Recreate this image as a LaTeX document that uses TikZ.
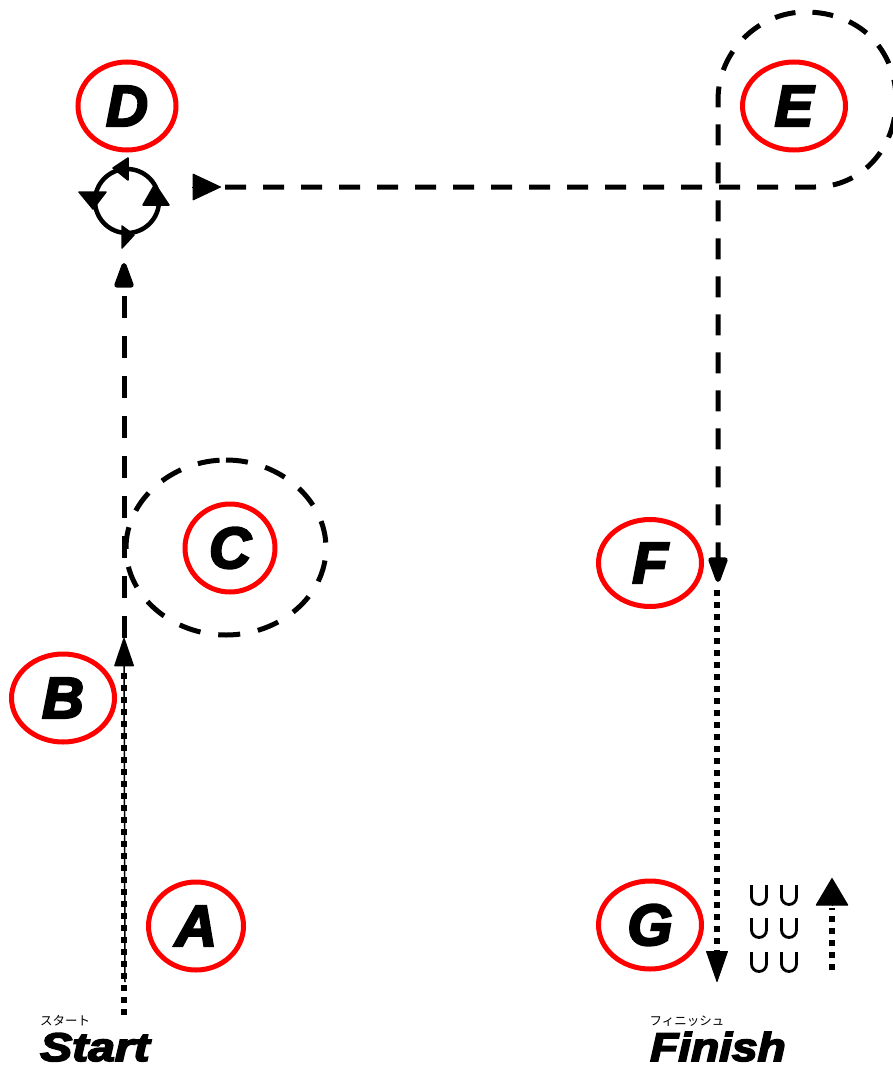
\documentclass[tikz,border=0pt]{standalone}
\usepackage{fontspec}
\setmainfont{Liberation Sans}[BoldItalicFeatures={FakeBold=4}]
\newfontfamily\kanafont{Noto Sans CJK JP}
\usetikzlibrary{arrows.meta,shapes.geometric}
\tikzset{
  spot/.style={draw=red,line width=5pt,ellipse,inner sep=0pt,font=\fontsize{58}{58}\selectfont\bfseries\itshape},
  dashroute/.style={line width=5pt,dash pattern=on 22pt off 18pt},
  dotroute/.style={line width=6pt,dash pattern=on 6pt off 6pt},
  thinroute/.style={line width=1.5pt},
  headup/.style={-{Triangle[length=30pt,width=20pt,round]}},
  ringhead/.style={fill=black,draw=black,line width=1.5pt,line join=round},
  title/.style={font=\fontsize{40}{40}\selectfont\bfseries\itshape,inner sep=0pt},
  kana/.style={font=\kanafont\fontsize{12.5}{13}\selectfont,inner sep=0pt}
}
\begin{document}
\begin{tikzpicture}[x=1pt,y=-1pt]
\useasboundingbox (0,0) rectangle (892,1070);

\node[spot,minimum width=95pt,minimum height=88pt] (a) at (196,926) {A};
\node[spot,minimum width=103pt,minimum height=88pt] (b) at (63,698) {B};
\node[spot,minimum width=90pt,minimum height=88pt] (c) at (230,548) {C};
\node[spot,minimum width=98pt,minimum height=88pt] (d) at (127,106) {D};
\node[spot,minimum width=103pt,minimum height=88pt] (e) at (794,106) {E};
\node[spot,minimum width=103pt,minimum height=87pt] (f) at (650,563) {F};
\node[spot,minimum width=103pt,minimum height=88pt] (g) at (650,925) {G};

\node[title,anchor=base west] (start) at (40,1061) {\scalebox{1.2}[1]{Start}};
\node[title,anchor=base west] (finish) at (650,1061) {\scalebox{1.15}[1]{Finish}};
\node[kana] (startkana) at (65,1021) {スタート};
\node[kana] (finishkana) at (687,1021) {フィニッシュ};

\coordinate (s0) at (123.5,1015);
\coordinate (s1) at (124,638);
\coordinate (s2) at (124,263);
\coordinate (r0) at (192,187);
\coordinate (r1) at (221,187);
\coordinate (r2) at (225,187);
\coordinate (t0) at (718,582);
\coordinate (t1) at (717,590);
\coordinate (t2) at (717,982);
\coordinate (u0) at (832,970);
\coordinate (u1) at (832,878);

% start to C and D
\draw[dotroute] (s0) -- (123.5,668);
\draw[thinroute,headup] (125,982) -- (s1);
\draw[dashroute,headup] (s1) -- (s2);
\draw[dashroute] (226,460) .. controls (280,460) and (326,500) .. (326,548) .. controls (326,596) and (280,635) .. (226,635) .. controls (172,635) and (126,596) .. (126,548) .. controls (126,500) and (172,460) .. (226,460);

% ring at D
\draw[line width=4.5pt] (127,201) circle (32pt);
\draw[ringhead] (113,168) -- (128,158) -- (128,180) -- cycle;
\draw[ringhead] (79,192) -- (106,192) -- (93,209) -- cycle;
\draw[ringhead] (122,226) -- (134,235) -- (122,248) -- cycle;
\draw[ringhead] (143,205) -- (169,205) -- (155,184) -- cycle;
\draw[line width=1pt,-{Triangle[length=29pt,width=27pt,round]}] (r0) -- (r1);

% round E and down to G
\draw[dashroute,dash pattern=on 21pt off 17pt,headup] (r2) -- (815,187) .. controls (860,187) and (896,150) .. (896,100) .. controls (896,50) and (860,12) .. (805,12) .. controls (760,12) and (718,50) .. (718,100) -- (t0);
\draw[dotroute] (t1) -- (717,952);
\draw[line width=1pt,-{Triangle[length=32pt,width=22pt,round]}] (717,950) -- (t2);

% legend
\foreach \px in {750,780} \foreach \py in {885,918,952}
  \draw[line width=2.8pt] (\px+1.5,\py) -- (\px+1.5,\py+12) arc[start angle=180,end angle=360,radius=7.5pt] -- (\px+16.5,\py);
\draw[dotroute] (u0) -- (832,908);
\draw[line width=1pt,-{Triangle[length=28pt,width=33pt,round]}] (832,906) -- (u1);
\end{tikzpicture}
\end{document}
